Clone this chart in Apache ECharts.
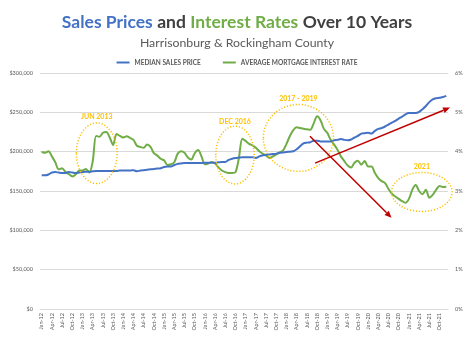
<!DOCTYPE html>
<html>
<head>
<meta charset="utf-8">
<script src="https://cdn.jsdelivr.net/npm/echarts@6/dist/echarts.min.js"></script>
<style>
  html, body { margin: 0; padding: 0; background: #ffffff; }
  #chart { width: 474px; height: 340px; }
</style>
</head>
<body>
<div id="chart"></div>
<script>
// Monthly categories, Jan-12 through Dec-21
const monthNames = ['Jan','Feb','Mar','Apr','May','Jun','Jul','Aug','Sep','Oct','Nov','Dec'];
const categories = [];
for (let y = 12; y <= 21; y++) {
  for (let m = 0; m < 12; m++) categories.push(monthNames[m] + '-' + y);
}

// Median sales price (USD), one value per month
const medianPrice = [
  170000,170000,171000,173500,174000,173500,173000,173000,174000,173500,173000,173500,
  174000,174500,174500,175000,175500,175500,175500,175500,175500,175500,175500,176000,
  176000,176000,176000,176500,175000,176000,176500,177000,177500,178000,178500,179000,
  180500,181000,181000,183000,184500,185000,185500,185500,185500,185500,185500,185500,
  186000,186000,186000,186000,186500,187000,187000,189500,191000,192000,192500,193000,
  193000,193000,193000,192000,194000,195500,196000,196500,197000,197500,198500,199000,
  199500,200000,200500,203000,207000,210500,211500,212000,214000,214000,213000,213000,
  213000,213000,214500,215000,216000,215000,214500,215500,218000,220000,223000,223500,
  224000,223000,226500,229000,230000,232000,234500,237000,239000,242000,244500,247500,
  249000,249000,249000,250500,254000,258000,263000,266500,268000,268500,269500,271000
];

// Average 30-year mortgage interest rate (%), one value per month
const mortgageRate = [
  3.99,3.97,4.01,3.88,3.73,3.55,3.58,3.48,3.43,3.37,3.42,3.52,
  3.52,3.56,3.47,3.75,4.40,4.38,4.48,4.50,4.36,4.17,4.45,4.40,
  4.36,4.39,4.35,4.30,4.15,4.12,4.10,4.18,4.12,3.96,3.90,3.82,
  3.78,3.66,3.68,3.73,3.95,4.01,3.97,3.85,3.80,3.96,4.04,3.88,
  3.68,3.70,3.74,3.70,3.60,3.52,3.48,3.46,3.46,3.48,3.84,4.33,
  4.27,4.20,4.16,4.10,4.01,3.95,3.90,3.84,3.88,3.93,3.98,4.03,
  4.20,4.40,4.55,4.62,4.60,4.58,4.57,4.56,4.72,4.90,4.80,4.58,
  4.48,4.30,4.18,4.05,3.88,3.76,3.65,3.60,3.72,3.77,3.67,3.76,
  3.62,3.62,3.46,3.33,3.25,3.20,3.05,2.93,2.86,2.80,2.74,2.70,
  2.80,3.03,3.15,3.00,2.92,3.03,2.83,2.90,3.03,3.13,3.10,3.11
];

// Highlighted periods: month-index span and rate span (right axis units)
const highlights = [
  { text: 'JUN 2013',    m0: 10.2,  m1: 22.2,  r0: 3.19, r1: 4.73, labelRate: 4.89 },
  { text: 'DEC 2016',    m0: 51.2,  m1: 62.5,  r0: 3.18, r1: 4.65, labelRate: 4.77 },
  { text: '2017 - 2019', m0: 65.2,  m1: 85.8,  r0: 3.50, r1: 5.20, labelRate: 5.34 },
  { text: '2021',        m0: 102.9, m1: 120.7, r0: 2.48, r1: 3.47, labelRate: 3.61 }
];

// Trend arrows: start/end as [month index, rate]
const trendArrows = [
  { from: [80.4, 3.71], to: [120.1, 5.12] },
  { from: [78.9, 4.39], to: [102.9, 2.32] }
];

const priceTicks = [0, 50000, 100000, 150000, 200000, 250000, 300000];
const rateTicks = [0, 1, 2, 3, 4, 5, 6];

const BLUE = '#4472C4';
const GREEN = '#70AD47';
const GOLD = '#FFC000';
const ARROW = '#C00000';
const TEXT = '#595959';
const FONT = 'Lato, "Open Sans", sans-serif';

const chart = echarts.init(document.getElementById('chart'), null, { renderer: 'canvas' });

chart.setOption({
  animation: false,
  backgroundColor: '#ffffff',
  title: [
    {
      left: 'center', top: 8,
      text: '{b|Sales Prices} {d|and} {g|Interest Rates} {d|Over 10 Years}',
      textStyle: {
        fontFamily: FONT,
        rich: {
          b: { color: BLUE, fontSize: 17.5, fontWeight: 'bold', fontFamily: FONT },
          g: { color: GREEN, fontSize: 17.5, fontWeight: 'bold', fontFamily: FONT },
          d: { color: '#404040', fontSize: 17.5, fontWeight: 'bold', fontFamily: FONT }
        }
      }
    },
    {
      left: 'center', top: 32,
      text: 'Harrisonburg & Rockingham County',
      textStyle: { color: TEXT, fontSize: 12.3, fontWeight: 'normal', fontFamily: FONT }
    }
  ],
  legend: {
    top: 54, left: 'center',
    itemWidth: 13, itemHeight: 2, itemGap: 22,
    icon: 'rect',
    textStyle: { color: TEXT, fontSize: 6.5, fontWeight: 'bold', fontFamily: FONT },
    data: ['MEDIAN SALES PRICE', 'AVERAGE MORTGAGE INTEREST RATE']
  },
  grid: { left: 40, right: 26, top: 73, bottom: 31, containLabel: false },
  xAxis: {
    type: 'category',
    data: categories,
    boundaryGap: true,
    axisLine: { lineStyle: { color: '#D9D9D9' } },
    axisTick: { show: false },
    axisLabel: {
      interval: 2, rotate: 90, fontSize: 5.5, color: TEXT, fontFamily: FONT, margin: 4
    },
    splitLine: { show: false }
  },
  yAxis: [
    {
      type: 'value', min: priceTicks[0], max: priceTicks[priceTicks.length - 1], interval: 50000,
      axisLine: { show: false }, axisTick: { show: false },
      axisLabel: {
        fontSize: 5.5, color: TEXT, fontFamily: FONT, margin: 7,
        formatter: v => '$' + v.toLocaleString('en-US')
      },
      splitLine: { lineStyle: { color: '#D9D9D9', width: 1 } }
    },
    {
      type: 'value', min: rateTicks[0], max: rateTicks[rateTicks.length - 1], interval: 1,
      axisLine: { show: false }, axisTick: { show: false },
      axisLabel: { fontSize: 5.5, color: TEXT, fontFamily: FONT, margin: 7, formatter: '{value}%' },
      splitLine: { show: false }
    }
  ],
  series: [
    {
      name: 'MEDIAN SALES PRICE', type: 'line', yAxisIndex: 0,
      data: medianPrice, symbol: 'none', smooth: 0.3,
      lineStyle: { color: BLUE, width: 2 }, itemStyle: { color: BLUE }, z: 3
    },
    {
      name: 'AVERAGE MORTGAGE INTEREST RATE', type: 'line', yAxisIndex: 1,
      data: mortgageRate, symbol: 'none', smooth: 0.3,
      lineStyle: { color: GREEN, width: 2 }, itemStyle: { color: GREEN }, z: 2
    }
  ]
});

// Map (fractional month index, rate) to pixels using the chart's own axes
function toPx(m, r) {
  const a = chart.convertToPixel({ xAxisIndex: 0, yAxisIndex: 1 }, [0, r]);
  const b = chart.convertToPixel({ xAxisIndex: 0, yAxisIndex: 1 }, [categories.length - 1, r]);
  const x = a[0] + (b[0] - a[0]) * m / (categories.length - 1);
  return [x, a[1]];
}

const graphics = [];
highlights.forEach(h => {
  const p0 = toPx(h.m0, h.r1);
  const p1 = toPx(h.m1, h.r0);
  const lp = toPx((h.m0 + h.m1) / 2, h.labelRate);
  graphics.push({
    type: 'ellipse', z: 10, silent: true,
    shape: { cx: (p0[0] + p1[0]) / 2, cy: (p0[1] + p1[1]) / 2, rx: (p1[0] - p0[0]) / 2, ry: (p1[1] - p0[1]) / 2 },
    style: { fill: null, stroke: GOLD, lineWidth: 1.5, lineDash: [1.2, 1.8] }
  });
  graphics.push({
    type: 'text', z: 11, silent: true, x: lp[0], y: lp[1],
    style: {
      text: h.text, fill: GOLD, font: 'bold 7px ' + FONT,
      textAlign: 'center', textVerticalAlign: 'middle'
    }
  });
});

trendArrows.forEach(a => {
  const s = toPx(a.from[0], a.from[1]);
  const e = toPx(a.to[0], a.to[1]);
  const ang = Math.atan2(e[1] - s[1], e[0] - s[0]);
  const len = 7, half = 3;
  const bx = e[0] - len * Math.cos(ang), by = e[1] - len * Math.sin(ang);
  graphics.push({
    type: 'line', z: 12, silent: true,
    shape: { x1: s[0], y1: s[1], x2: bx, y2: by },
    style: { stroke: ARROW, lineWidth: 1.5 }
  });
  graphics.push({
    type: 'polygon', z: 12, silent: true,
    shape: { points: [
      [e[0], e[1]],
      [bx + half * Math.sin(ang), by - half * Math.cos(ang)],
      [bx - half * Math.sin(ang), by + half * Math.cos(ang)]
    ] },
    style: { fill: ARROW }
  });
});

chart.setOption({ graphic: graphics });
</script>
</body>
</html>
